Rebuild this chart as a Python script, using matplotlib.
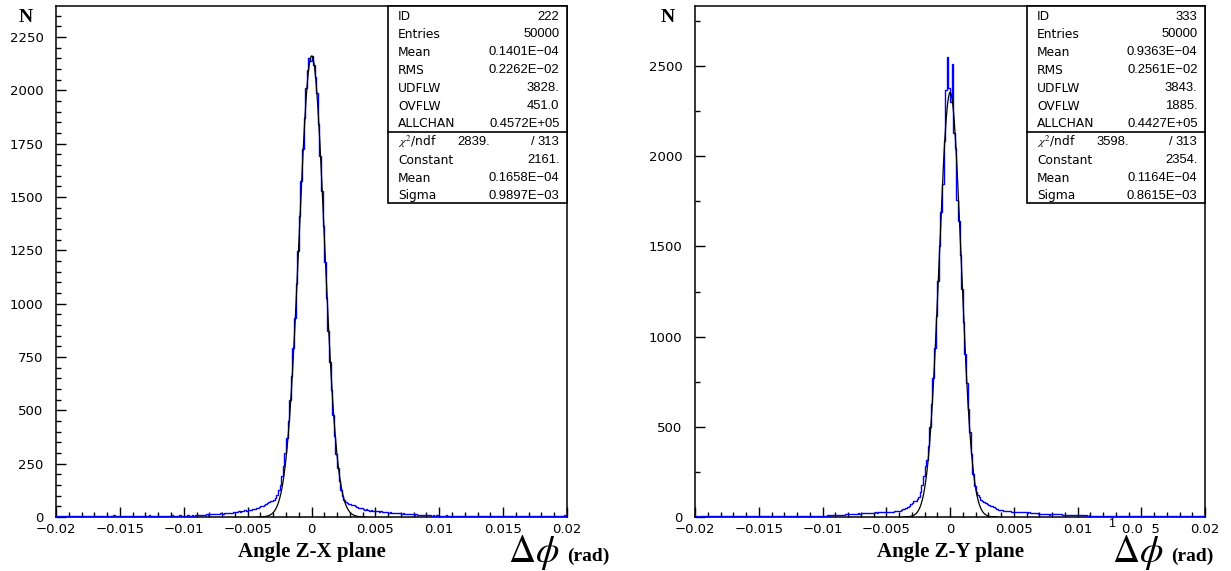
import numpy as np
import matplotlib.pyplot as plt
from matplotlib.patches import Rectangle
from matplotlib.ticker import MultipleLocator, FixedLocator, FixedFormatter

plt.rcParams['mathtext.fontset'] = 'stix'

# histogram range, 320 bins of 0.000125 rad
x_min, x_max = -0.02, 0.02

# counts per bin, left to right
zx_counts = [
    4, 3, 5, 4, 4, 3, 5, 4, 3, 4, 5, 4, 3, 4, 4, 5, 3, 4, 5, 4,
    4, 5, 3, 4, 5, 4, 4, 6, 4, 3, 5, 4, 5, 4, 6, 5, 8, 7, 5, 4,
    5, 4, 5, 6, 4, 5, 5, 4, 6, 5, 4, 5, 6, 5, 4, 6, 5, 7, 8, 6,
    5, 6, 5, 7, 6, 5, 6, 7, 5, 6, 7, 6, 8, 6, 7, 6, 7, 8, 6, 7,
    7, 6, 8, 6, 7, 8, 7, 9, 8, 9, 10, 9, 11, 10, 12, 11, 12, 14, 12, 13,
    16, 14, 15, 17, 16, 17, 20, 18, 19, 21, 20, 23, 22, 24, 26, 25, 28, 27, 31, 29,
    31, 33, 35, 36, 38, 41, 44, 46, 50, 53, 58, 60, 66, 70, 73, 76, 82, 90, 104, 126,
    152, 190, 238, 300, 368, 452, 548, 662, 790, 935,
    1090, 1248, 1410, 1575, 1725, 1870, 2010, 2095, 2152, 2138,
    2160, 2118, 2062, 1985, 1842, 1690, 1528, 1362, 1196, 1028,
    872, 728, 596, 480, 380, 296, 228, 168, 128, 98,
    80, 70, 66, 62, 60, 57, 55, 50, 47, 44, 40, 42, 37, 35, 38, 32, 30, 31, 28, 27,
    26, 28, 25, 27, 24, 23, 25, 22, 21, 22, 20, 19, 21, 18, 17, 19, 16, 17, 15, 14,
    15, 13, 12, 13, 11, 12, 10, 11, 10, 9, 10, 9, 8, 9, 8, 7, 8, 7, 8, 7,
    7, 6, 7, 6, 8, 6, 5, 7, 6, 5, 6, 7, 5, 6, 5, 6, 5, 4, 6, 5,
    6, 5, 4, 5, 6, 5, 4, 5, 6, 4, 5, 6, 5, 4, 6, 5, 4, 5, 5, 6,
    5, 4, 6, 5, 5, 4, 6, 5, 4, 5, 5, 6, 4, 5, 6, 5, 4, 5, 6, 5,
    5, 6, 4, 5, 6, 5, 5, 6, 4, 5, 6, 5, 6, 7, 5, 6, 7, 6, 8, 7,
]

zy_counts = [
    3, 4, 2, 3, 4, 3, 5, 3, 2, 4, 3, 4, 3, 5, 4, 3, 4, 3, 4, 5,
    3, 4, 3, 5, 4, 3, 4, 4, 3, 5, 4, 3, 4, 5, 3, 4, 6, 4, 3, 4,
    4, 5, 3, 4, 4, 5, 4, 3, 5, 4, 4, 3, 5, 4, 5, 4, 6, 4, 5, 4,
    5, 4, 5, 6, 4, 5, 6, 5, 4, 6, 5, 6, 5, 4, 6, 5, 6, 7, 6, 7,
    7, 8, 7, 9, 8, 10, 9, 11, 10, 11, 12, 11, 13, 12, 14, 15, 16, 15, 17, 18,
    17, 19, 20, 19, 21, 20, 22, 21, 23, 22, 24, 23, 24, 25, 24, 26, 25, 27, 26, 25,
    26, 27, 30, 28, 29, 32, 31, 34, 36, 38, 42, 46, 50, 55, 62, 72, 80, 86, 90, 98,
    112, 140, 178, 228, 280, 318, 395, 500, 625, 770,
    935, 1115, 1310, 1500, 1690, 1845, 2085, 2370, 2552, 2380,
    2300, 2510, 2130, 2045, 1760, 1640, 1450, 1265, 1080, 905,
    742, 596, 470, 352, 240, 172, 140, 124, 112, 96,
    90, 82, 77, 72, 68, 63, 59, 55, 50, 46, 41, 40, 37, 35, 34, 32, 33, 31, 30, 29,
    28, 30, 27, 29, 26, 27, 25, 26, 24, 25, 23, 22, 24, 21, 20, 19, 18, 19, 17, 16,
    15, 14, 13, 14, 15, 16, 17, 15, 16, 14, 13, 12, 12, 11, 12, 10, 11, 10, 11, 10,
    10, 9, 10, 9, 8, 9, 8, 9, 7, 8, 8, 7, 8, 6, 7, 8, 7, 6, 7, 6,
    7, 6, 5, 7, 6, 5, 6, 5, 6, 5, 4, 6, 5, 6, 5, 4, 5, 6, 5, 4,
    5, 4, 6, 5, 4, 5, 5, 4, 6, 5, 4, 5, 4, 5, 6, 4, 5, 4, 5, 6,
    5, 4, 5, 6, 5, 4, 6, 5, 5, 6, 5, 6, 7, 6, 5, 7, 6, 7, 8, 7,
]

# gaussian fit parameters (from the stats boxes)
zx_fit = (2161.0, 0.1658e-4, 0.9897e-3)
zy_fit = (2354.0, 0.1164e-4, 0.8615e-3)

stat_labels = ["ID", "Entries", "Mean", "RMS", "UDFLW", "OVFLW", "ALLCHAN"]
zx_stat_values = ["222", "50000", "0.1401E\u221204", "0.2262E\u221202", "3828.", "451.0", "0.4572E+05"]
zy_stat_values = ["333", "50000", "0.9363E\u221204", "0.2561E\u221202", "3843.", "1885.", "0.4427E+05"]

fit_labels = ["Constant", "Mean", "Sigma"]
zx_fit_values = ["2161.", "0.1658E\u221204", "0.9897E\u221203"]
zy_fit_values = ["2354.", "0.1164E\u221204", "0.8615E\u221203"]
zx_chi2 = ("2839.", "313")
zy_chi2 = ("3598.", "313")

x_ticks = [-0.02, -0.015, -0.01, -0.005, 0, 0.005, 0.01, 0.015, 0.02]
zx_xlabels = ["\u22120.02", "\u22120.015", "\u22120.01", "\u22120.005", "0", "0.005", "0.01", "0.015", "0.02"]
zy_xlabels = ["\u22120.02", "\u22120.015", "\u22120.01", "\u22120.005", "0", "0.005", "0.01", "0.0  5", "0.02"]

W, H = 1231, 571
AX_H = 511


def fpos(x, y):
    # pixel position (from top-left) -> figure fraction
    return x / W, 1 - y / H


def draw_panel(ax, counts, fit, ymax, ymajor, yminor, xlabels,
               stat_values, chi2, fit_values, ax_w):
    edges = np.linspace(x_min, x_max, len(counts) + 1)
    ax.stairs(counts, edges, color='#0000ff', lw=1.0, zorder=2.6)

    # fit curve, drawn only where it is off the axis
    c, mu, sig = fit
    xs = np.linspace(mu - 4.3 * sig, mu + 4.3 * sig, 800)
    ax.plot(xs, c * np.exp(-0.5 * ((xs - mu) / sig) ** 2), color='black', lw=0.9, zorder=2.7)

    ax.set_xlim(x_min, x_max)
    ax.set_ylim(0, ymax)
    ax.xaxis.set_major_locator(FixedLocator(x_ticks))
    ax.xaxis.set_major_formatter(FixedFormatter(xlabels))
    ax.xaxis.set_minor_locator(MultipleLocator(0.001))
    ax.yaxis.set_major_locator(MultipleLocator(ymajor))
    ax.yaxis.set_minor_locator(MultipleLocator(yminor))
    ax.tick_params(which='both', direction='in', top=False, right=False,
                   colors='black', labelsize=9.5)
    ax.tick_params(which='major', length=7, width=1)
    ax.tick_params(which='minor', length=3.3, width=1)
    ax.tick_params(axis='x', pad=4)
    ax.tick_params(axis='y', pad=9)
    for s in ax.spines.values():
        s.set_linewidth(1.1)
        s.set_color('black')

    # stats box
    box_l = 332
    tr = ax.transAxes
    ax.add_patch(Rectangle((box_l / ax_w, 1 - 197 / AX_H), (ax_w - box_l) / ax_w, 197 / AX_H,
                           transform=tr, facecolor='white', edgecolor='black',
                           lw=1.2, zorder=5, clip_on=False))
    ax.plot([box_l / ax_w, 1], [1 - 125.5 / AX_H] * 2, transform=tr,
            color='black', lw=1.2, zorder=6, clip_on=False)
    lab_x = (box_l + 10) / ax_w
    val_x = (ax_w - 7.5) / ax_w
    lab_font = dict(fontsize=8.8, family='DejaVu Sans', va='center', zorder=7, transform=tr)
    val_font = dict(fontsize=9.4, family='Liberation Sans', va='center', zorder=7, transform=tr)
    for i, (lab, val) in enumerate(zip(stat_labels, stat_values)):
        y = 1 - (10.5 + 17.9 * i) / AX_H
        ax.text(lab_x, y, lab, ha='left', **lab_font)
        ax.text(val_x, y, val, ha='right', **val_font)
    y = 1 - 136 / AX_H
    ax.text(lab_x, y, r'$\chi^2$/ndf', ha='left', **lab_font)
    ax.text((box_l + 102) / ax_w, y, chi2[0], ha='right', **val_font)
    ax.text((ax_w - 34) / ax_w, y, '/', ha='center', **val_font)
    ax.text(val_x, y, chi2[1], ha='right', **val_font)
    for j, (lab, val) in enumerate(zip(fit_labels, fit_values)):
        y = 1 - (154 + 18 * j) / AX_H
        ax.text(lab_x, y, lab, ha='left', **lab_font)
        ax.text(val_x, y, val, ha='right', **val_font)


def main():
    fig = plt.figure(figsize=(W / 100, H / 100), dpi=100)
    ax1 = fig.add_axes([56 / W, 54 / H, 511 / W, AX_H / H])
    ax2 = fig.add_axes([695 / W, 54 / H, 510 / W, AX_H / H])

    draw_panel(ax1, zx_counts, zx_fit, 2395, 250, 50, zx_xlabels,
               zx_stat_values, zx_chi2, zx_fit_values, 511)
    draw_panel(ax2, zy_counts, zy_fit, 2833, 500, 250, zy_xlabels,
               zy_stat_values, zy_chi2, zy_fit_values, 510)

    # stray "1" of the broken 0.015 label on the right panel
    ax2.text(0.01268, -0.001, '1', transform=ax2.get_xaxis_transform(),
             ha='center', va='top', fontsize=9, family='Liberation Sans')

    bold = dict(family='Liberation Serif', fontweight='bold')
    for x0, name, xc, dx in [(26, 'Angle Z-X plane', 312, 508), (668, 'Angle Z-Y plane', 951, 1112)]:
        fig.text(*fpos(x0, 18), 'N', ha='center', va='center', fontsize=14, **bold)
        fig.text(*fpos(xc, 552), name, ha='center', va='center', fontsize=15, **bold)
        fig.text(*fpos(dx, 553), r'$\Delta\phi$', ha='left', va='center', fontsize=27)
        fig.text(*fpos(dx + 59, 556), '(rad)', ha='left', va='center', fontsize=14, **bold)

    fig.savefig('out.png', dpi=100)


if __name__ == "__main__":
    main()
